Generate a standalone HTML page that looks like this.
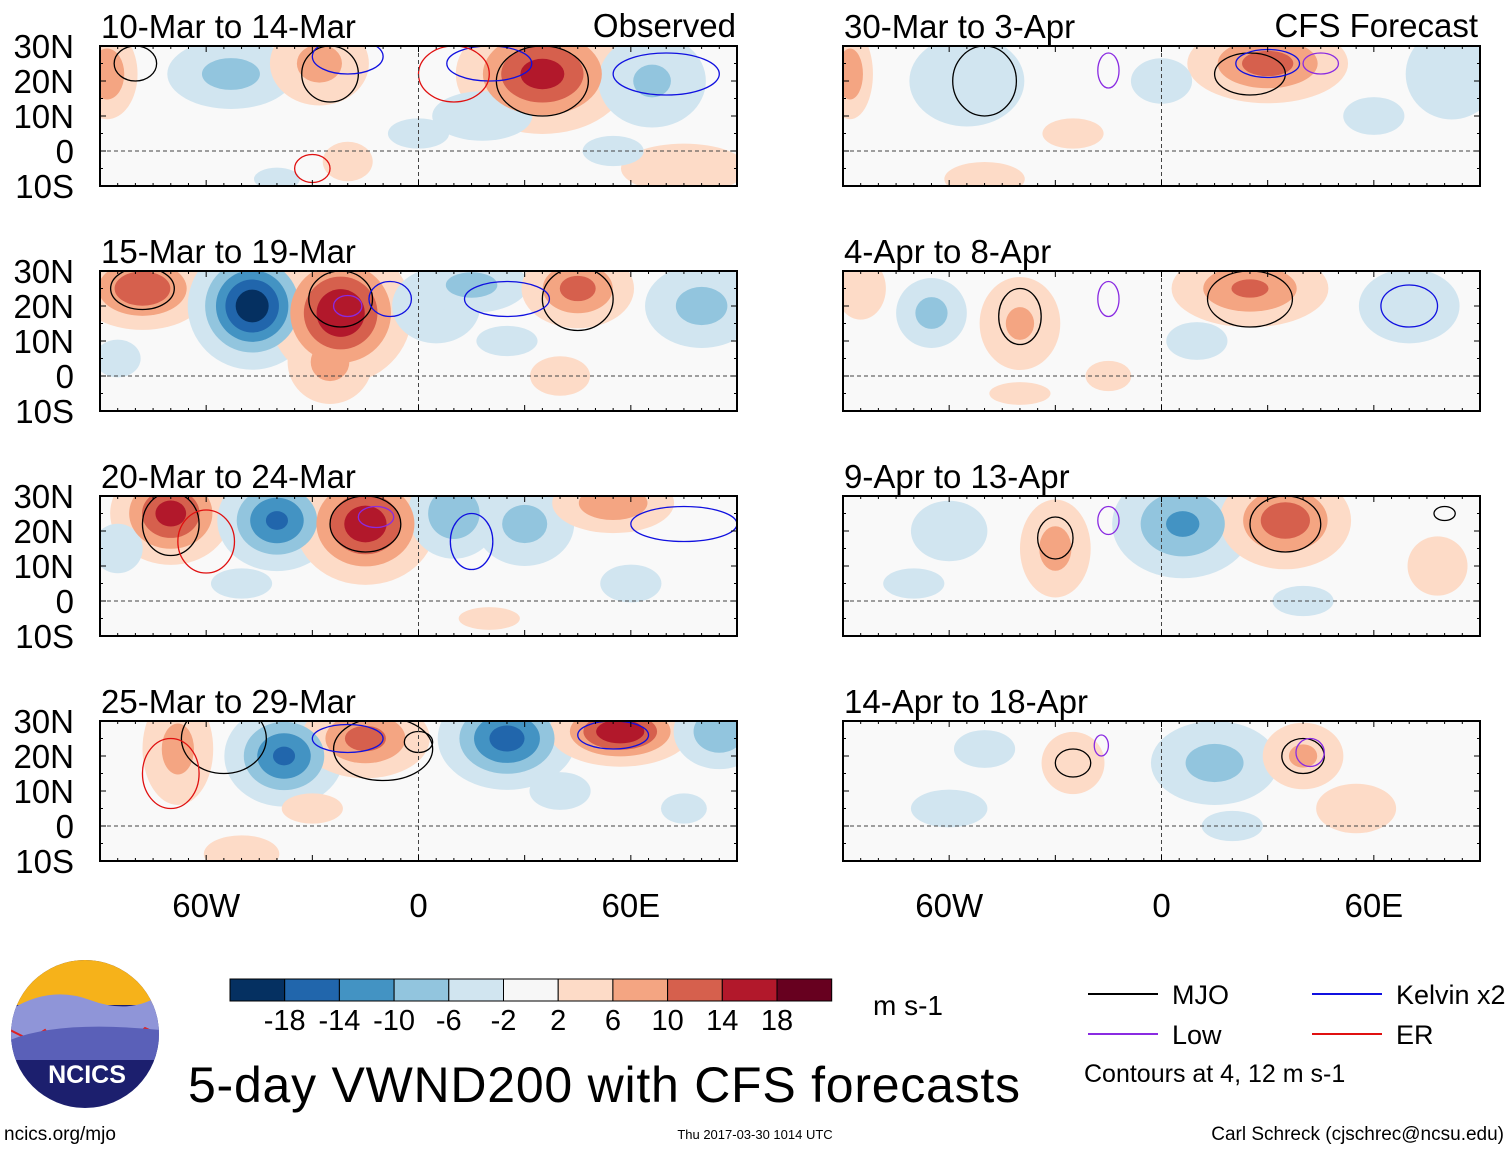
<!DOCTYPE html>
<html><head><meta charset="utf-8">
<style>
body{margin:0;background:#fff;width:1510px;height:1149px;overflow:hidden;font-family:"Liberation Sans",sans-serif}
svg{position:absolute;left:0;top:0}
</style></head>
<body>
<svg id="s" width="1510" height="1149" font-family="Liberation Sans, sans-serif"></svg>
<script>
// Panel titles
const leftTitles=["10-Mar to 14-Mar","15-Mar to 19-Mar","20-Mar to 24-Mar","25-Mar to 29-Mar"];
const rightTitles=["30-Mar to 3-Apr","4-Apr to 8-Apr","9-Apr to 13-Apr","14-Apr to 18-Apr"];
const latTicks=["30N","20N","10N","0","10S"];
const lonTicks=["60W","0","60E"];
const lonTickVals=[-60,0,60];
const levels=[2,6,10,14,18];
const redCols=["#fddbc7","#f4a582","#d6604d","#b2182b","#67001f"];
const blueCols=["#d1e5f0","#92c5de","#4393c3","#2166ac","#053061"];
const cbarLabels=["-18","-14","-10","-6","-2","2","6","10","14","18"];
// anomaly blobs per panel: [lon, lat, amplitude m/s, sigmaLon deg, sigmaLat deg]
const blobsL=[
 [[-53,22,-8,9,5],[-28,25,8,7,6],[35,22,16,10,7],[66,20,-7,8,7],[-88,22,10,4,6],[75,-5,6,10,4],[18,10,-4,10,5],[-20,-3,4,5,4],[-40,-8,-3,6,3],[0,5,-3,8,4],[55,0,-3,8,4]],
 [[-78,25,14,8,5],[-47,20,-21,7,7],[-22,18,18,8,8],[-25,4,8,6,6],[5,20,-6,7,6],[15,26,-8,8,4],[45,25,12,7,5],[80,20,-8,8,6],[-85,5,-3,6,5],[40,0,4,6,4],[25,10,-3,8,4]],
 [[-70,25,16,7,6],[-40,23,-15,7,6],[-15,22,17,8,7],[10,25,-10,6,6],[30,22,-8,7,6],[55,28,10,8,4],[-85,15,-4,5,5],[-50,5,-3,8,4],[60,5,-3,8,5],[20,-5,3,8,3]],
 [[-68,22,8,5,8],[-38,20,-15,7,6],[-15,25,12,8,5],[25,25,-16,8,6],[57,27,18,8,4],[85,27,-10,6,5],[-50,-8,6,6,3],[40,10,-3,8,5],[-30,5,3,8,4],[75,5,-3,6,4]]
];
const blobsR=[
 [[-55,20,-5,10,8],[30,25,12,10,5],[-88,22,10,3,6],[82,22,-5,8,8],[0,20,-3,8,6],[-50,-8,5,7,3],[-25,5,3,8,4],[60,10,-3,8,5]],
 [[-65,18,-8,5,5],[-40,15,7,6,7],[25,25,11,10,5],[70,20,-6,8,6],[-85,25,6,4,5],[-40,-5,3,8,3],[10,10,-3,8,5],[-15,0,3,6,4]],
 [[-30,15,8,5,7],[6,22,-11,9,7],[35,23,13,8,6],[-60,20,-3,10,8],[78,10,4,6,6],[-70,5,-3,8,4],[40,0,-3,8,4]],
 [[-25,18,6,5,5],[15,18,-8,9,6],[40,20,7,6,5],[-50,22,-3,8,5],[55,5,4,8,5],[-60,5,-3,10,5],[20,0,-3,8,4]]
];
// contours: [lon, lat, rLon, rLat, color]
const contL=[
 [[-25,22,8,8,"#000"],[35,20,13,10,"#000"],[-80,25,6,5,"#000"],[20,25,12,5,"#1010e0"],[-20,27,10,5,"#1010e0"],[70,22,15,6,"#1010e0"],[-30,-5,5,4,"#e01010"],[10,22,10,8,"#e01010"]],
 [[-78,25,9,6,"#000"],[-22,22,9,8,"#000"],[45,22,10,9,"#000"],[-20,20,4,3,"#8a2be2"],[25,22,12,5,"#1010e0"],[-8,22,6,5,"#1010e0"]],
 [[-70,22,8,9,"#000"],[-15,22,10,8,"#000"],[-60,17,8,9,"#e01010"],[15,17,6,8,"#1010e0"],[-12,24,5,3,"#8a2be2"],[75,22,15,5,"#1010e0"]],
 [[-55,25,12,10,"#000"],[-10,22,14,9,"#000"],[0,24,4,3,"#000"],[-70,15,8,10,"#e01010"],[-20,25,10,4,"#1010e0"],[55,26,10,4,"#1010e0"]]
];
const contR=[
 [[-50,20,9,10,"#000"],[25,22,10,6,"#000"],[-15,23,3,5,"#8a2be2"],[30,25,9,4,"#1010e0"],[45,25,5,3,"#8a2be2"]],
 [[-40,17,6,8,"#000"],[25,22,12,8,"#000"],[-15,22,3,5,"#8a2be2"],[70,20,8,6,"#1010e0"]],
 [[-30,18,5,6,"#000"],[35,22,10,8,"#000"],[-15,23,3,4,"#8a2be2"],[80,25,3,2,"#000"]],
 [[-25,18,5,4,"#000"],[40,20,6,5,"#000"],[-17,23,2,3,"#8a2be2"],[42,21,4,4,"#8a2be2"]]
];
const S=document.getElementById('s');
const NS="http://www.w3.org/2000/svg";
function mk(tag,attrs,parent){const e=document.createElementNS(NS,tag);for(const k in attrs)e.setAttribute(k,attrs[k]);(parent||S).appendChild(e);return e;}
const rowTops=[46,271,496,721];
const PH=140, PW=637, SG=1.2;
function panel(x0,y0,title,blobs,conts,idx,side){
  const g=mk('g',{});
  
  
  const lonX=l=>x0+(l+90)/180*PW;
  const latY=l=>y0+(30-l)/40*PH;
  const cid='c'+side+idx;
  const cp=mk('clipPath',{id:cid},g);mk('rect',{x:x0,y:y0,width:PW,height:PH},cp);
  const cg=mk('g',{'clip-path':'url(#'+cid+')'},g);
  mk('rect',{x:x0,y:y0,width:PW,height:PH,fill:'#f9f9f9'},cg);
  for(let li=0;li<levels.length;li++){
    blobs.forEach(b=>{
      const a=Math.abs(b[2]);if(a<=levels[li])return;
      const f=SG*Math.sqrt(2*Math.log(a/levels[li]));
      const e=mk('ellipse',{cx:lonX(b[0]),cy:latY(b[1]),rx:b[3]*f*PW/180,ry:b[4]*f*PH/40,fill:b[2]>0?redCols[li]:blueCols[li]},cg);
      
      
    });
  }
  conts.forEach(c=>{
    const e=mk('ellipse',{cx:lonX(c[0]),cy:latY(c[1]),rx:c[2]*PW/180,ry:c[3]*PH/40,fill:'none',stroke:c[4],'stroke-width':1.3},cg);
    
    
  });
  mk('line',{x1:x0,x2:x0+PW,y1:latY(0),y2:latY(0),stroke:'#444','stroke-dasharray':'4,3','stroke-width':1},cg);
  mk('line',{x1:lonX(0),x2:lonX(0),y1:y0,y2:y0+PH,stroke:'#444','stroke-dasharray':'4,3','stroke-width':1},cg);
  mk('rect',{x:x0,y:y0,width:PW,height:PH,fill:'none',stroke:'#000','stroke-width':2},g);
  for(let l=-90;l<=90;l+=5){const big=l%30===0;mk('line',{x1:lonX(l),x2:lonX(l),y1:y0,y2:y0+(big?6:3),stroke:'#000'},g);mk('line',{x1:lonX(l),x2:lonX(l),y1:y0+PH,y2:y0+PH-(big?6:3),stroke:'#000'},g);}
  for(let l=-10;l<=30;l+=5){const big=l%10===0;mk('line',{x1:x0,x2:x0+(big?6:3),y1:latY(l),y2:latY(l),stroke:'#000'},g);mk('line',{x1:x0+PW,x2:x0+PW-(big?6:3),y1:latY(l),y2:latY(l),stroke:'#000'},g);}
  const t=mk('text',{x:x0+1,y:y0-8,'font-size':33},g);t.textContent=title;
  
  if(side==='left'){latTicks.forEach((s,i)=>{const tt=mk('text',{x:74,y:y0+i*35+12,'font-size':33,'text-anchor':'end'},g);tt.textContent=s;
    });}
  if(idx===3){lonTicks.forEach((s,i)=>{const tt=mk('text',{x:lonX(lonTickVals[i]),y:917,'font-size':33,'text-anchor':'middle'},g);tt.textContent=s;
    });}
}
for(let i=0;i<4;i++){panel(100,rowTops[i],leftTitles[i],blobsL[i],contL[i],i,'left');panel(843,rowTops[i],rightTitles[i],blobsR[i],contR[i],i,'right');}
function txt(x,y,s,size,name,anchor){const t=mk('text',{x:x,y:y,'font-size':size,'text-anchor':anchor||'start'});t.textContent=s;return t;}
txt(736,37,"Observed",33,'observed-label','end');
txt(1478,37,"CFS Forecast",33,'cfs-forecast-label','end');
// colorbar
const cb=blueCols.slice().reverse().concat(["#f7f7f7"]).concat(redCols);
cb.forEach((c,i)=>{const r=mk('rect',{x:230+i*54.7,y:979,width:54.7,height:22,fill:c,stroke:'#000','stroke-width':1});});
cbarLabels.forEach((s,i)=>txt(284.7+i*54.7,1030,s,29,'colorbar-label','middle'));
txt(873,1015,"m s-1",28,'units-label');
const ft=txt(188,1102,"5-day VWND200 with CFS forecasts",50,'figure-title');ft.setAttribute('textLength','832');
// legend
const leg=[[1088,994,"#000","MJO"],[1312,994,"#1010e0","Kelvin x2"],[1088,1034,"#8a2be2","Low"],[1312,1034,"#e01010","ER"]];
leg.forEach(l=>{const g=mk('g',{});
 mk('line',{x1:l[0],x2:l[0]+70,y1:l[1],y2:l[1],stroke:l[2],'stroke-width':2},g);const t=mk('text',{x:l[0]+84,y:l[1]+10,'font-size':27},g);t.textContent=l[3];});
txt(1084,1082,"Contours at 4, 12 m s-1",25,'contour-note');
txt(4,1140,"ncics.org/mjo",19,'site-url');
txt(755,1139,"Thu 2017-03-30 1014 UTC",13,'timestamp','middle');
txt(1504,1140,"Carl Schreck (cjschrec@ncsu.edu)",19,'author-credit','end');
// logo
const lg=mk('g',{});
const lc=mk('clipPath',{id:'lgc'},lg);mk('circle',{cx:85,cy:1034,r:74},lc);
const lgi=mk('g',{'clip-path':'url(#lgc)'},lg);
mk('rect',{x:10,y:960,width:150,height:150,fill:'#1c1f6e'},lgi);
mk('rect',{x:10,y:960,width:150,height:45,fill:'#f6b21a'},lgi);
mk('path',{d:'M10 1010 Q50 985 90 1000 T160 995 L160 1040 L10 1045Z',fill:'#8f95d8'},lgi);
mk('path',{d:'M10 1030 L30 1040 L45 1030 L60 1050 L75 1035 L90 1052 L105 1030 L125 1045 L145 1028 L160 1035',fill:'none',stroke:'#e02020','stroke-width':2},lgi);
mk('path',{d:'M10 1040 Q60 1020 160 1030 L160 1060 L10 1060Z',fill:'#5a60b8'},lgi);
const lt=mk('text',{x:87,y:1083,'font-size':25,'font-weight':'bold',fill:'#fff','text-anchor':'middle'},lg);lt.textContent="NCICS";
</script>
</body></html>
